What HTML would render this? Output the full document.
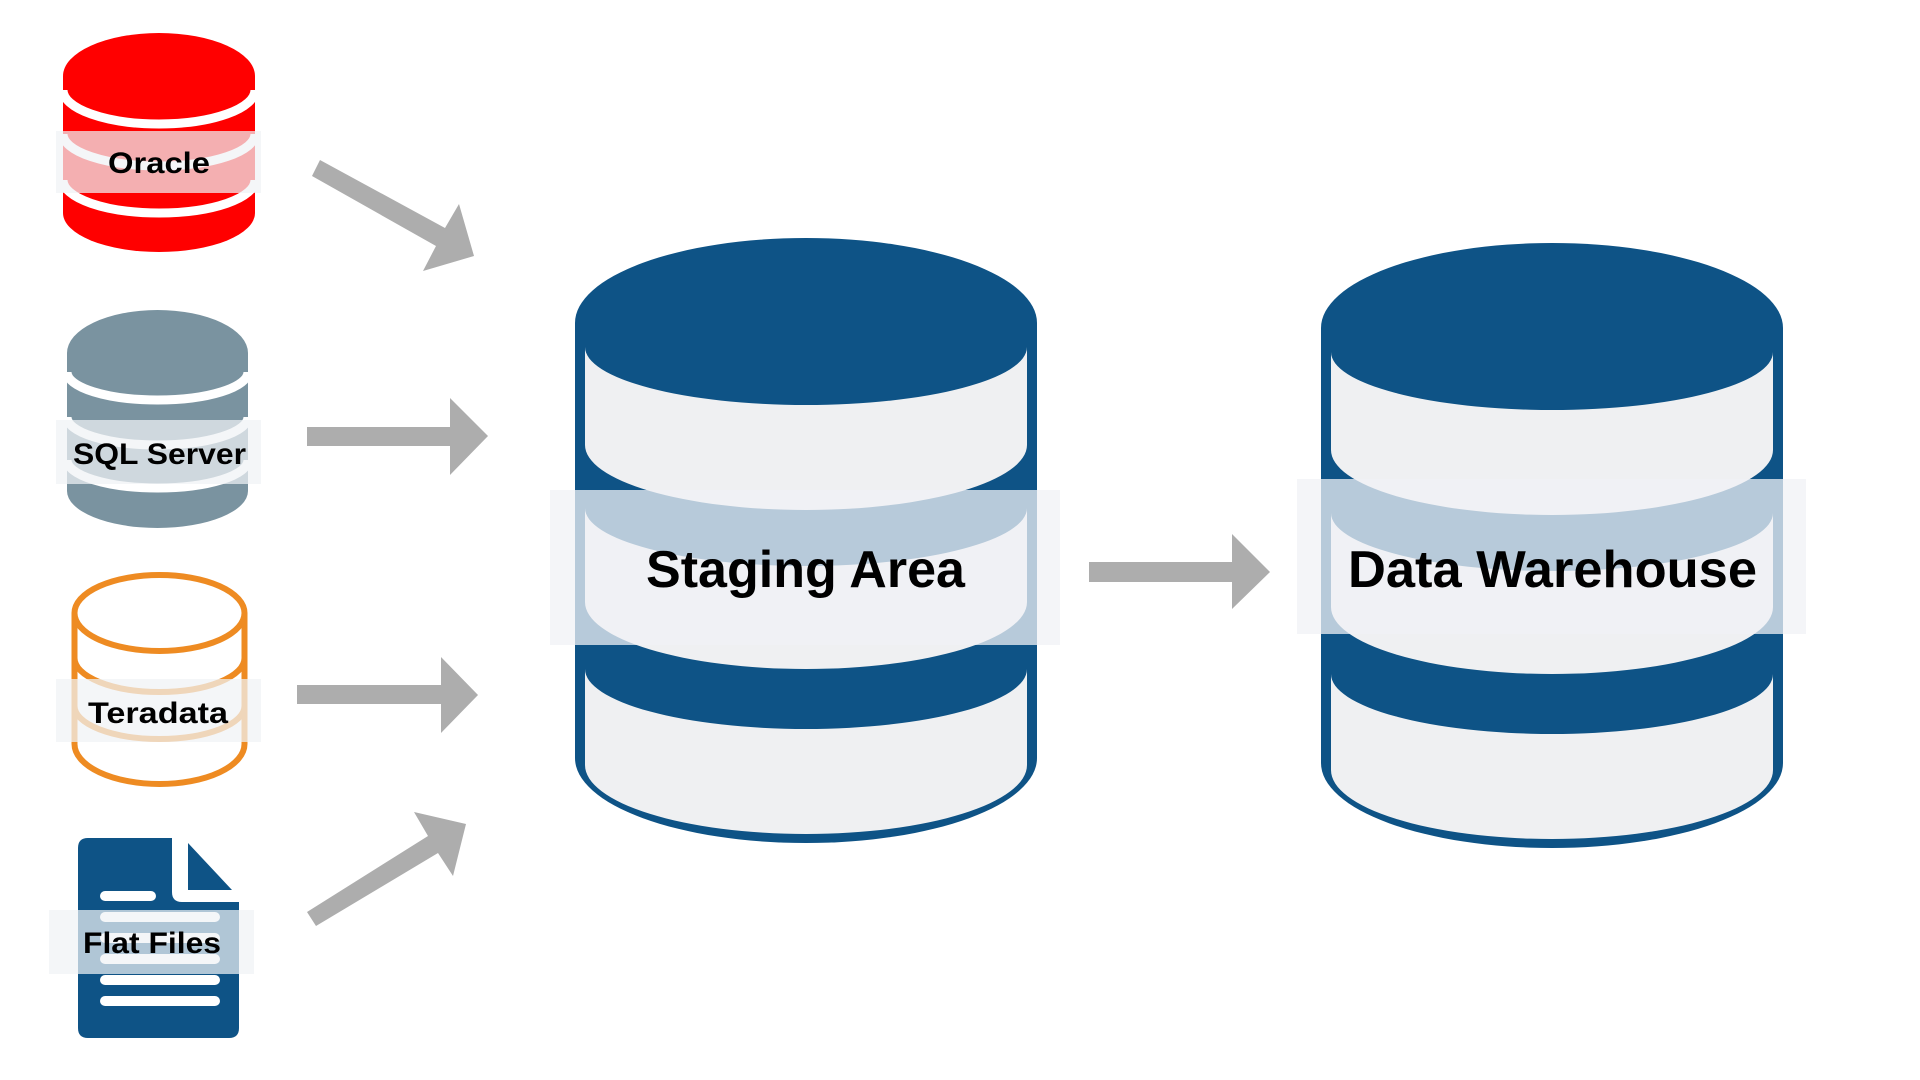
<!DOCTYPE html>
<html><head><meta charset="utf-8"><style>
html,body{margin:0;padding:0;background:#fff;}
svg{display:block}
text{font-family:"Liberation Sans",sans-serif;font-weight:bold;fill:#000}
</style></head><body>
<svg width="1920" height="1080" viewBox="0 0 1920 1080" xmlns="http://www.w3.org/2000/svg">
<rect width="1920" height="1080" fill="#fff"/>
<!-- Oracle -->
<path d="M63,76 A96,43 0 0 1 255,76 L255,213 A96,39 0 0 1 63,213 Z" fill="#ff0000"/>
<g fill="none" stroke="#fff" stroke-width="9">
<path d="M63,90 A96,34 0 0 0 255,90"/>
<path d="M63,134 A96,32 0 0 0 255,134"/>
<path d="M63,180 A96,33 0 0 0 255,180"/>
</g>
<rect x="56" y="131" width="205" height="62" fill="rgba(240,242,245,0.72)"/>
<text x="108" y="173" font-size="30" textLength="102" lengthAdjust="spacingAndGlyphs">Oracle</text>
<!-- SQL Server -->
<path d="M67,353 A90.5,43 0 0 1 248,353 L248,491 A90.5,37 0 0 1 67,491 Z" fill="#7a93a0"/>
<g fill="none" stroke="#fff" stroke-width="9">
<path d="M67,372 A90.5,28 0 0 0 248,372"/>
<path d="M67,417 A90.5,28 0 0 0 248,417"/>
<path d="M67,460 A90.5,28 0 0 0 248,460"/>
</g>
<rect x="56" y="420" width="205" height="64" fill="rgba(240,242,245,0.72)"/>
<text x="73" y="464" font-size="30" textLength="173" lengthAdjust="spacingAndGlyphs">SQL Server</text>
<!-- Teradata -->
<g fill="none" stroke="#ee8b22" stroke-width="6">
<ellipse cx="159.5" cy="613" rx="85" ry="38"/>
<path d="M74.5,613 L74.5,744 A85,40 0 0 0 244.5,744 L244.5,613"/>
<path d="M74.5,658 A85,34 0 0 0 244.5,658"/>
<path d="M74.5,706 A85,33 0 0 0 244.5,706"/>
</g>
<rect x="56" y="679" width="205" height="63" fill="rgba(240,242,245,0.72)"/>
<text x="88" y="723" font-size="30" textLength="140" lengthAdjust="spacingAndGlyphs">Teradata</text>
<!-- Flat Files -->
<path d="M88,838 L172,838 L172,892 Q172,902 182,902 L239,902 L239,1028 Q239,1038 229,1038 L88,1038 Q78,1038 78,1028 L78,848 Q78,838 88,838 Z" fill="#0e5386"/>
<path d="M188,843 L232,890 L188,890 Z" fill="#0e5386"/>
<g fill="#fff">
<rect x="100" y="891" width="56" height="10" rx="5"/>
<rect x="100" y="912" width="120" height="10" rx="5"/>
<rect x="100" y="933" width="120" height="10" rx="5"/>
<rect x="100" y="954" width="120" height="10" rx="5"/>
<rect x="100" y="975" width="120" height="10" rx="5"/>
<rect x="100" y="996" width="120" height="10" rx="5"/>
</g>
<rect x="49" y="910" width="205" height="64" fill="rgba(240,242,245,0.72)"/>
<text x="83" y="953" font-size="30" textLength="138" lengthAdjust="spacingAndGlyphs">Flat Files</text>
<!-- arrows -->
<g fill="#adadad">
<polygon points="320,160 445,228 459,204 474,256 423,271 436,246 312,176"/>
<polygon points="307,427 450,427 450,398 488,436 450,475 450,446 307,446"/>
<polygon points="297,685 441,685 441,657 478,695 441,733 441,704 297,704"/>
<polygon points="307,912 428,836 414,812 466,824 453,876 438,853 316,926"/>
<polygon points="1089,562 1232,562 1232,534 1270,572 1232,609 1232,582 1089,582"/>
</g>
<!-- Staging cylinder -->
<g id="cyl">
<path d="M575,323 A231,85 0 0 1 1037,323 L1037,758 A231,85 0 0 1 575,758 Z" fill="#0e5386"/>
<g fill="#eff0f2">
<path d="M585,347 A221,58 0 0 0 1027,347 L1027,445 A221,65 0 0 1 585,445 Z"/>
<path d="M585,508 A221,58 0 0 0 1027,508 L1027,602 A221,67 0 0 1 585,602 Z"/>
<path d="M585,669 A221,60 0 0 0 1027,669 L1027,765 A221,69 0 0 1 585,765 Z"/>
</g>
</g>
<rect x="550" y="490" width="510" height="155" fill="rgba(240,242,245,0.75)"/>
<text x="646" y="587" font-size="52" textLength="319" lengthAdjust="spacingAndGlyphs">Staging Area</text>
<!-- DW cylinder -->
<g transform="translate(746,5)">
<path d="M575,323 A231,85 0 0 1 1037,323 L1037,758 A231,85 0 0 1 575,758 Z" fill="#0e5386"/>
<g fill="#eff0f2">
<path d="M585,347 A221,58 0 0 0 1027,347 L1027,445 A221,65 0 0 1 585,445 Z"/>
<path d="M585,508 A221,58 0 0 0 1027,508 L1027,602 A221,67 0 0 1 585,602 Z"/>
<path d="M585,669 A221,60 0 0 0 1027,669 L1027,765 A221,69 0 0 1 585,765 Z"/>
</g>
</g>
<rect x="1297" y="479" width="509" height="155" fill="rgba(240,242,245,0.75)"/>
<text x="1348" y="587" font-size="52" textLength="409" lengthAdjust="spacingAndGlyphs">Data Warehouse</text>
</svg>
</body></html>
